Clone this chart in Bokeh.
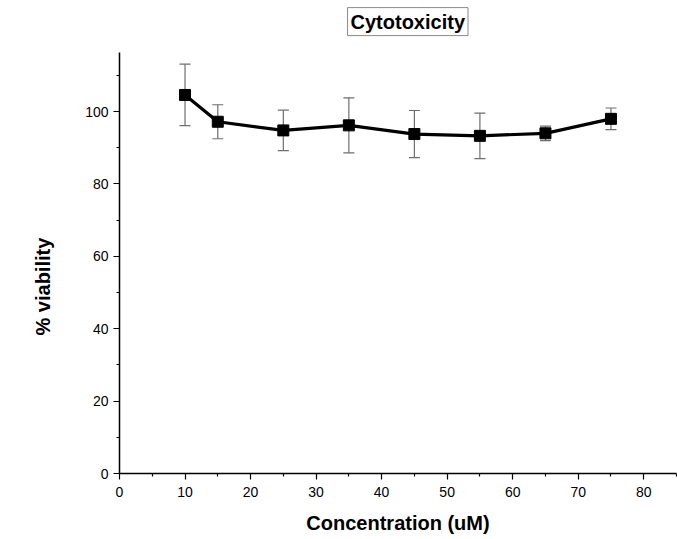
from bokeh.plotting import figure
from bokeh.models import ColumnDataSource, Whisker, TeeHead, Label, Title, FixedTicker, Range1d
from bokeh.embed import file_html
from bokeh.resources import INLINE

conc = [10, 15, 25, 35, 45, 55, 65, 75]
viability = [104.6, 97.2, 94.8, 96.2, 93.8, 93.3, 94.0, 98.0]
err = [8.5, 4.7, 5.6, 7.6, 6.5, 6.3, 2.0, 3.0]

x_ticks = [0, 10, 20, 30, 40, 50, 60, 70, 80]
y_ticks = [0, 20, 40, 60, 80, 100]

upper = [v + e for v, e in zip(viability, err)]
lower = [v - e for v, e in zip(viability, err)]
src = ColumnDataSource(dict(x=conc, y=viability, upper=upper, lower=lower))

FONT = "Liberation Sans"

p = figure(width=677, height=539, output_backend="svg", toolbar_location=None,
           x_range=Range1d(0, 85), y_range=Range1d(0, 130.7),
           min_border_left=118, min_border_right=1, min_border_top=0, min_border_bottom=66)
p.outline_line_color = None
p.grid.grid_line_color = None
p.background_fill_color = "white"
p.border_fill_color = "white"

title = Label(text="Cytotoxicity", x=34.8, y=121.0,
              text_font=FONT, text_font_size="20px", text_font_style="bold",
              text_color="black", text_align="left", text_baseline="bottom",
              border_line_color="#8a8a8a", border_line_width=1,
              background_fill_color="white", padding=3)
p.add_layout(title)

w = Whisker(source=src, base="x", upper="upper", lower="lower",
            line_color="#6e6e6e", line_width=1.2,
            upper_head=TeeHead(size=11, line_color="#6e6e6e", line_width=1.2),
            lower_head=TeeHead(size=11, line_color="#6e6e6e", line_width=1.2))
p.add_layout(w)

p.line("x", "y", source=src, line_color="black", line_width=3.2)
p.scatter("x", "y", source=src, marker="square", size=11, color="black")

for ax in (p.xaxis[0], p.yaxis[0]):
    ax.axis_line_color = "black"
    ax.axis_line_width = 1.5
    ax.major_tick_line_color = "black"
    ax.minor_tick_line_color = "black"
    ax.major_tick_line_width = 1.2
    ax.minor_tick_line_width = 1.2
    ax.major_tick_out = 6
    ax.major_tick_in = 0
    ax.minor_tick_out = 3
    ax.minor_tick_in = 0
    ax.major_label_text_font = FONT
    ax.major_label_text_font_size = "14px"
    ax.major_label_text_color = "black"
    ax.axis_label_text_font = FONT
    ax.axis_label_text_font_size = "20px"
    ax.axis_label_text_font_style = "bold"
    ax.axis_label_text_color = "black"

p.yaxis.bounds = (0, 116.3)
p.xaxis.ticker = FixedTicker(ticks=x_ticks, minor_ticks=[5, 15, 25, 35, 45, 55, 65, 75, 85])
p.yaxis.ticker = FixedTicker(ticks=y_ticks, minor_ticks=[10, 30, 50, 70, 90, 110])
p.xaxis.axis_label = "Concentration (uM)"
p.xaxis.major_label_standoff = 7
p.yaxis.major_label_standoff = 5
p.xaxis.axis_label_standoff = 12

ylab = Title(text="% viability", align="left", offset=138, standoff=58,
             text_font=FONT, text_font_size="20px", text_font_style="bold",
             text_color="black")
p.add_layout(ylab, "left")

open("out.html", "w").write(file_html(p, INLINE))
